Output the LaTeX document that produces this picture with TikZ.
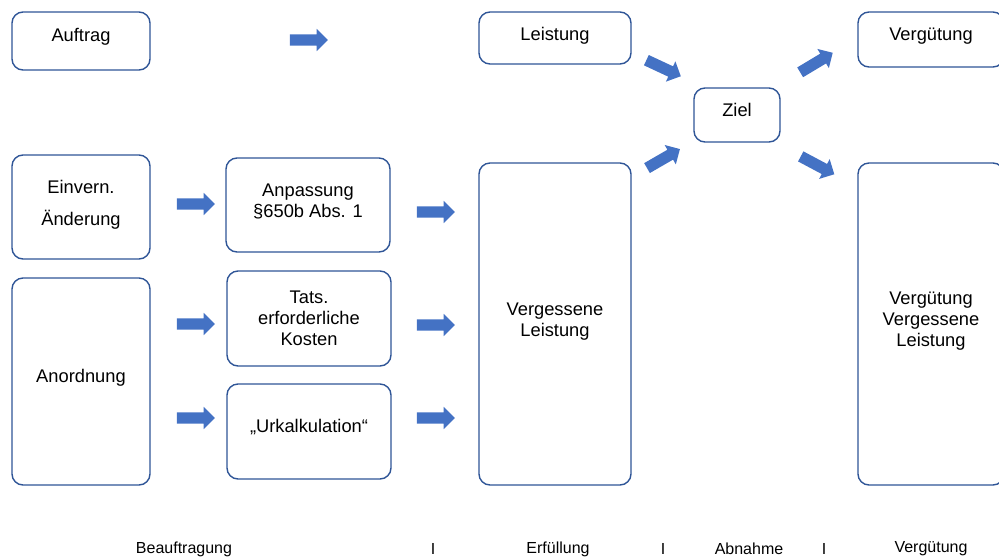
\documentclass[tikz,border=0pt]{standalone}
\usepackage{fontspec}
\setmainfont{Liberation Sans}
\usetikzlibrary{shapes.arrows}
\definecolor{boxline}{HTML}{2F5597}
\definecolor{arrowfill}{HTML}{4472C4}
\begin{document}
\begin{tikzpicture}[x=1pt,y=-1pt,
  box/.style={draw=boxline, line width=1.4pt, rounded corners=11pt, fill=white, inner sep=0pt},
  txt/.style={align=center, font=\fontsize{18.3}{21}\selectfont, inner sep=0pt},
  blockarrow/.style={single arrow, fill=arrowfill, draw=none, minimum height=38pt,
    minimum width=0pt, inner xsep=0pt, inner ysep=5.5pt,
    single arrow head extend=5.5pt, single arrow tip angle=90,
    single arrow head indent=0pt},
  phase/.style={font=\fontsize{16}{19}\selectfont, inner sep=0pt}]

\useasboundingbox (0,0) rectangle (999,558);

% boxes
\node[box, minimum width=138pt, minimum height=58pt]  (auftrag)  at (81,41)    {};
\node[box, minimum width=152pt, minimum height=52pt]  (leistung) at (555,38)   {};
\node[box, minimum width=146pt, minimum height=55pt]  (vergtop)  at (931,39.5) {};
\node[box, minimum width=86pt,  minimum height=54pt]  (ziel)     at (737,115)  {};
\node[box, minimum width=138pt, minimum height=104pt] (einvern)  at (81,207)   {};
\node[box, minimum width=164pt, minimum height=94pt]  (anpass)   at (308,205)  {};
\node[box, minimum width=138pt, minimum height=207pt] (anord)    at (81,381.5) {};
\node[box, minimum width=164pt, minimum height=95pt]  (tats)     at (309,318.5) {};
\node[box, minimum width=164pt, minimum height=95pt]  (urkalk)   at (309,431.5) {};
\node[box, minimum width=152pt, minimum height=322pt] (vergess)  at (555,324)  {};
\node[box, minimum width=146pt, minimum height=322pt] (vergvl)   at (931,324)  {};

% box texts, set slightly above the box centres
\node[txt] (tauftrag)  at ([yshift=4.5pt]auftrag.center)  {Auftrag};
\node[txt] (tleistung) at ([yshift=2pt]leistung.center)   {Leistung};
\node[txt] (tvergtop)  at ([yshift=3pt]vergtop.center)    {Vergütung};
\node[txt] (tziel)     at ([yshift=5pt]ziel.center)       {Ziel};
\node[txt] (teinvern)  at ([yshift=2pt]einvern.center)    {Einvern.\\[11pt]Änderung};
\node[txt] (tanpass)   at ([yshift=4pt]anpass.center)     {Anpassung\\§650b Abs. 1};
\node[txt] (tanord)    at ([yshift=4pt]anord.center)      {Anordnung};
\node[txt] (ttats)     at (tats.center)                   {Tats.\\erforderliche\\Kosten};
\node[txt] (turkalk)   at ([yshift=4.5pt]urkalk.center)   {„Urkalkulation“};
\node[txt] (tvergess)  at ([yshift=2pt]vergess.center)    {Vergessene\\Leistung};
\node[txt] (tvergvl)   at ([yshift=2.5pt]vergvl.center)   {Vergütung\\Vergessene\\Leistung};

% block arrows
\node[blockarrow] (atop) at (306,40) {};
\node[blockarrow] (al1)  at (193,204) {};
\node[blockarrow] (al2)  at (193,324) {};
\node[blockarrow] (al3)  at (193,418) {};
\node[blockarrow] (am1)  at (433,212) {};
\node[blockarrow] (am2)  at (433,325) {};
\node[blockarrow] (am3)  at (433,418) {};
\node[blockarrow, rotate=-25] (azin1) at (661,67)  {};
\node[blockarrow, rotate=30]  (azin2) at (661,160) {};
\node[blockarrow, rotate=31]  (azout1) at (814,64)  {};
\node[blockarrow, rotate=-28] (azout2) at (815,164) {};

% phase line
\node[phase] (ph1) at (184,549) {Beauftragung};
\node[phase] (sp1) at (433,549) {I};
\node[phase] (ph2) at (558,549) {Erfüllung};
\node[phase] (sp2) at (663,549) {I};
\node[phase] (ph3) at (749,549) {Abnahme};
\node[phase] (sp3) at (824,549) {I};
\node[phase] (ph4) at (931,549) {Vergütung};
\end{tikzpicture}
\end{document}
